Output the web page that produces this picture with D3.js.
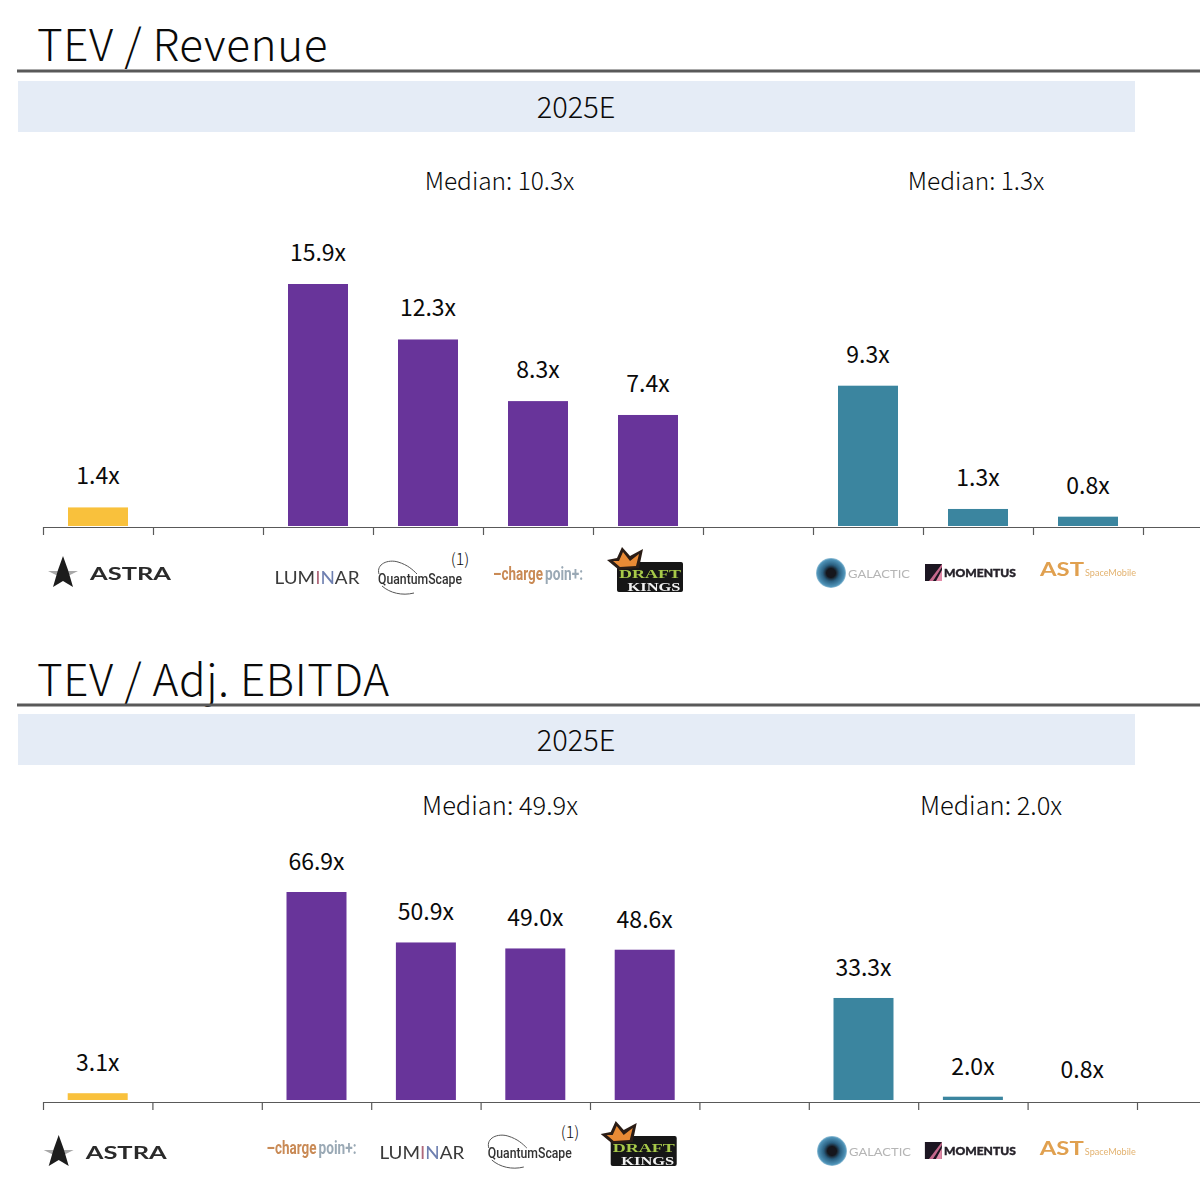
<!DOCTYPE html>
<html>
<head>
<meta charset="utf-8">
<script src="https://cdn.jsdelivr.net/npm/d3@7"></script>
<style>
  html, body { margin: 0; padding: 0; background: #fff; }
  svg { display: block; }
  text { font-family: "Noto Sans CJK JP", "Noto Sans", sans-serif; fill: #0a0a0a; }
</style>
</head>
<body>
<svg id="chart" width="1200" height="1200"></svg>
<script>
// Valuation multiples, 2025E
const revenueCompanies = ["Astra", "", "Luminar", "QuantumScape", "ChargePoint", "DraftKings", " ", "Virgin Galactic", "Momentus", "AST SpaceMobile"];
const revenueValues = [1.4, null, 15.9, 12.3, 8.3, 7.4, null, 9.3, 1.3, 0.8];
const revenueLabels = ["1.4x", "", "15.9x", "12.3x", "8.3x", "7.4x", "", "9.3x", "1.3x", "0.8x"];
const revenueMedians = ["Median: 10.3x", "Median: 1.3x"];

const ebitdaCompanies = ["Astra", "", "ChargePoint", "Luminar", "QuantumScape", "DraftKings", " ", "Virgin Galactic", "Momentus", "AST SpaceMobile"];
const ebitdaValues = [3.1, null, 66.9, 50.9, 49.0, 48.6, null, 33.3, 2.0, 0.8];
const ebitdaLabels = ["3.1x", "", "66.9x", "50.9x", "49.0x", "48.6x", "", "33.3x", "2.0x", "0.8x"];
const ebitdaMedians = ["Median: 49.9x", "Median: 2.0x"];

const groupColors = ["#f9c13c", "#68349a", "#3b859f"];
const groupOf = i => (i === 0 ? 0 : i < 6 ? 1 : 2);

const svg = d3.select("#chart");
const defs = svg.append("defs");
defs.append("filter").attr("id", "soft").append("feGaussianBlur").attr("stdDeviation", 0.45);
const eye = defs.append("radialGradient").attr("id", "galacticEye");
eye.append("stop").attr("offset", "0.3").attr("stop-color", "#15171d");
eye.append("stop").attr("offset", "0.55").attr("stop-color", "#2a5f80");
eye.append("stop").attr("offset", "0.9").attr("stop-color", "#4f93b8");
eye.append("stop").attr("offset", "1").attr("stop-color", "#9cc5da");

// Company logotypes, each drawn around a local origin.
const logos = {
  Astra(g) {
    g.append("path").attr("d", "M-15,-2 L15,-2 L5,3 L-5,3 Z").attr("fill", "#a8a8a8");
    g.append("path").attr("d", "M0,-17 L5,-3 L10,14 L0,8 L-10,14 L-5,-3 Z").attr("fill", "#1c1c1c");
    g.append("text").attr("x", 27).attr("y", 7).attr("font-size", 16.5).attr("font-weight", 700)
      .attr("textLength", 81).attr("lengthAdjust", "spacingAndGlyphs")
      .style("font-family", "Lato").style("fill", "#2b2b2b").text("ASTRA");
  },
  Luminar(g) {
    const t = g.append("text").attr("x", 0).attr("y", 7).attr("text-anchor", "middle").attr("font-size", 18)
      .attr("textLength", 85).attr("lengthAdjust", "spacingAndGlyphs")
      .style("font-family", "Lato").style("fill", "#3a3a3a");
    t.append("tspan").text("LUM");
    t.append("tspan").style("fill", "#b0687a").text("I");
    t.append("tspan").style("fill", "#6e7fb0").text("N");
    t.append("tspan").text("AR");
  },
  QuantumScape(g) {
    g.append("path").attr("d", "M-41,-5 C-44,-15 -32,-20 -22,-17 C-12,-14 -7,-9 -3,-5").attr("fill", "none").attr("stroke", "#555").attr("stroke-width", 1);
    g.append("path").attr("d", "M-38,7 C-30,14 -18,17 -6,14").attr("fill", "none").attr("stroke", "#555").attr("stroke-width", 1);
    g.append("text").attr("x", 0).attr("y", 5).attr("text-anchor", "middle").attr("font-size", 14).attr("font-weight", 500)
      .attr("textLength", 84).attr("lengthAdjust", "spacingAndGlyphs")
      .style("font-family", "Roboto").style("fill", "#333").text("QuantumScape");
  },
  ChargePoint(g) {
    // Narrow, tall lettering: a small face stretched vertically.
    const word = g.append("g").attr("transform", "scale(1,1.3)");
    word.append("text").attr("x", -45).attr("y", 4).attr("font-size", 13.5).attr("font-weight", 700)
      .attr("textLength", 50).attr("lengthAdjust", "spacingAndGlyphs")
      .style("font-family", "Roboto").style("fill", "#c98a55").text("\u2013charge");
    word.append("text").attr("x", 7).attr("y", 4).attr("font-size", 13.5).attr("font-weight", 700)
      .attr("textLength", 38).attr("lengthAdjust", "spacingAndGlyphs")
      .style("font-family", "Roboto").style("fill", "#9aa9b5").text("poin+:");
  },
  DraftKings(g) {
    g.append("rect").attr("x", -31).attr("y", -13).attr("width", 66).attr("height", 30).attr("rx", 2).attr("fill", "#141414");
    g.append("path").attr("d", "M-41,-15 L-31,-17 L-26,-28 L-18,-19 L-5,-26 L-9,-7 L-29,-5 Z").attr("fill", "#2a1d14");
    g.append("path").attr("d", "M-35,-14 L-29,-14 L-25,-23 L-18,-14 L-9,-21 L-12,-9 L-28,-8 Z").attr("fill", "#e98a35");
    g.append("text").attr("x", 2).attr("y", 2.5).attr("text-anchor", "middle").attr("font-size", 13).attr("font-weight", 700)
      .attr("textLength", 62).attr("lengthAdjust", "spacingAndGlyphs")
      .style("font-family", "Liberation Serif").style("fill", "#a7c94a").text("DRAFT");
    g.append("text").attr("x", 6).attr("y", 15.5).attr("text-anchor", "middle").attr("font-size", 11.5).attr("font-weight", 700)
      .attr("textLength", 53).attr("lengthAdjust", "spacingAndGlyphs")
      .style("font-family", "Liberation Serif").style("fill", "#f1f1f1").text("KINGS");
  },
  "Virgin Galactic"(g) {
    g.append("circle").attr("cx", -34).attr("r", 15).attr("fill", "url(#galacticEye)");
    g.append("text").attr("x", -17).attr("y", 5).attr("font-size", 12)
      .attr("textLength", 62).attr("lengthAdjust", "spacingAndGlyphs")
      .style("font-family", "Lato").style("fill", "#b5b5b5").text("GALACTIC");
  },
  Momentus(g) {
    g.append("rect").attr("x", -46).attr("y", -9).attr("width", 17).attr("height", 17).attr("fill", "#1b1420");
    g.append("path").attr("d", "M-35,8 L-29,-3 L-29,8 Z").attr("fill", "#e28aa8");
    g.append("path").attr("d", "M-42,8 L-29,-9 L-29,-6 L-38,8 Z").attr("fill", "#c4688c");
    g.append("text").attr("x", -27).attr("y", 4).attr("font-size", 11.5).attr("font-weight", 900)
      .attr("textLength", 72).attr("lengthAdjust", "spacingAndGlyphs")
      .attr("stroke", "#26222a").attr("stroke-width", 0.4)
      .style("font-family", "Lato").style("fill", "#26222a").text("MOMENTUS");
  },
  "AST SpaceMobile"(g) {
    g.append("text").attr("x", -48).attr("y", 5).attr("font-size", 19).attr("font-weight", 700)
      .attr("textLength", 44).attr("lengthAdjust", "spacingAndGlyphs")
      .style("font-family", "Lato").style("fill", "#e0a050").text("AST");
    g.append("text").attr("x", -3).attr("y", 5).attr("font-size", 10)
      .attr("textLength", 51).attr("lengthAdjust", "spacingAndGlyphs")
      .style("font-family", "Lato").style("fill", "#e3b26f").text("SpaceMobile");
  }
};

function drawPanel(cfg) {
  const { title, companies, values, labels, medians, axisY, barBase, zeroY, topY, maxValue, left, bandWidth, top } = cfg;

  svg.append("text").attr("x", 37).attr("y", top).attr("font-size", 44).attr("font-weight", 300)
    .attr("letter-spacing", 0.6).text(title);
  svg.append("line").attr("x1", 17).attr("x2", 1200).attr("y1", cfg.ruleY).attr("y2", cfg.ruleY)
    .attr("stroke", "#595959").attr("stroke-width", 3);

  svg.append("rect").attr("x", 18).attr("y", cfg.headerY).attr("width", 1117).attr("height", 51).attr("fill", "#e5ecf6");
  svg.append("text").attr("x", 576).attr("y", cfg.headerY + 37).attr("text-anchor", "middle")
    .attr("font-size", 29).attr("font-weight", 300).text("2025E");

  const x = d3.scaleBand().domain(companies).range([left, left + bandWidth * companies.length]);
  // Zero lies just under the visible bar foot, so the smallest bars are trimmed by it.
  const y = d3.scaleLinear().domain([0, maxValue]).range([zeroY, topY]);

  // Axis ticks sit on the band edges and the baseline runs off the right edge.
  const edges = d3.scaleLinear().domain([0, (1200 - left) / bandWidth]).range([left, 1200]);
  const axis = svg.append("g").attr("transform", `translate(0,${axisY})`)
    .call(d3.axisBottom(edges).tickValues(d3.range(companies.length + 1)).tickSize(8).tickSizeOuter(0).tickFormat(""));
  axis.selectAll("path, line").attr("stroke", "#595959").attr("stroke-width", 1.2);

  const rows = companies.map((c, i) => ({ c, v: values[i], label: labels[i], i })).filter(d => d.v !== null);

  svg.append("g").selectAll("rect").data(rows).join("rect")
    .attr("x", d => x(d.c) + (x.bandwidth() - 60) / 2)
    .attr("width", 60)
    .attr("y", d => y(d.v))
    .attr("height", d => Math.max(0, barBase - y(d.v)))
    .attr("fill", d => groupColors[groupOf(d.i)]);

  svg.append("g").selectAll("text").data(rows).join("text")
    .attr("x", d => x(d.c) + x.bandwidth() / 2)
    .attr("y", d => y(d.v) - cfg.labelGap)
    .attr("text-anchor", "middle")
    .attr("font-size", 23)
    .text(d => d.label);

  medians.forEach((m, i) => {
    svg.append("text").attr("x", cfg.medianX[i]).attr("y", cfg.medianY).attr("text-anchor", "middle")
      .attr("font-size", cfg.medianSize).attr("font-weight", 300).text(m);
  });

  const logoRow = svg.append("g").attr("filter", "url(#soft)");
  rows.forEach(d => {
    const off = cfg.logoOffsets[d.c] || [0, 0];
    const g = logoRow.append("g").attr("transform", `translate(${x(d.c) + x.bandwidth() / 2 + off[0]},${cfg.logoY + off[1]})`);
    logos[d.c](g);
  });

  svg.append("text").attr("x", cfg.noteX).attr("y", cfg.noteY).attr("text-anchor", "middle")
    .attr("font-size", 16).attr("font-weight", 300).text("(1)");
}

drawPanel({
  title: "TEV / Revenue", companies: revenueCompanies, values: revenueValues, labels: revenueLabels, medians: revenueMedians,
  top: 61, ruleY: 71, headerY: 81, axisY: 527, barBase: 526, zeroY: 529, topY: 284, maxValue: 15.9, left: 43, bandWidth: 110, labelGap: 23,
  medianX: [499.5, 976], medianY: 189.5, medianSize: 24.5, logoY: 573, noteX: 460, noteY: 565,
  logoOffsets: { Astra: [-35, 0], Luminar: [-1, 4], QuantumScape: [-8, 6], ChargePoint: [0, 2], DraftKings: [0, 2], "Virgin Galactic": [-3, 0], Momentus: [-7, 0], "AST SpaceMobile": [0, -2] }
});

drawPanel({
  title: "TEV / Adj. EBITDA", companies: ebitdaCompanies, values: ebitdaValues, labels: ebitdaLabels, medians: ebitdaMedians,
  top: 696, ruleY: 705, headerY: 714, axisY: 1102, barBase: 1100, zeroY: 1103, topY: 892, maxValue: 66.9, left: 43, bandWidth: 109.4, labelGap: 22,
  medianX: [500, 991], medianY: 814.5, medianSize: 25.5, logoY: 1151, noteX: 570, noteY: 1138,
  logoOffsets: { Astra: [-39, 1], Luminar: [-4, 1], QuantumScape: [-5.5, 2], ChargePoint: [-5, -2], DraftKings: [-3, -2], "Virgin Galactic": [2.5, 0], Momentus: [-2, 0], "AST SpaceMobile": [5.5, -1] }
});
</script>
</body>
</html>
